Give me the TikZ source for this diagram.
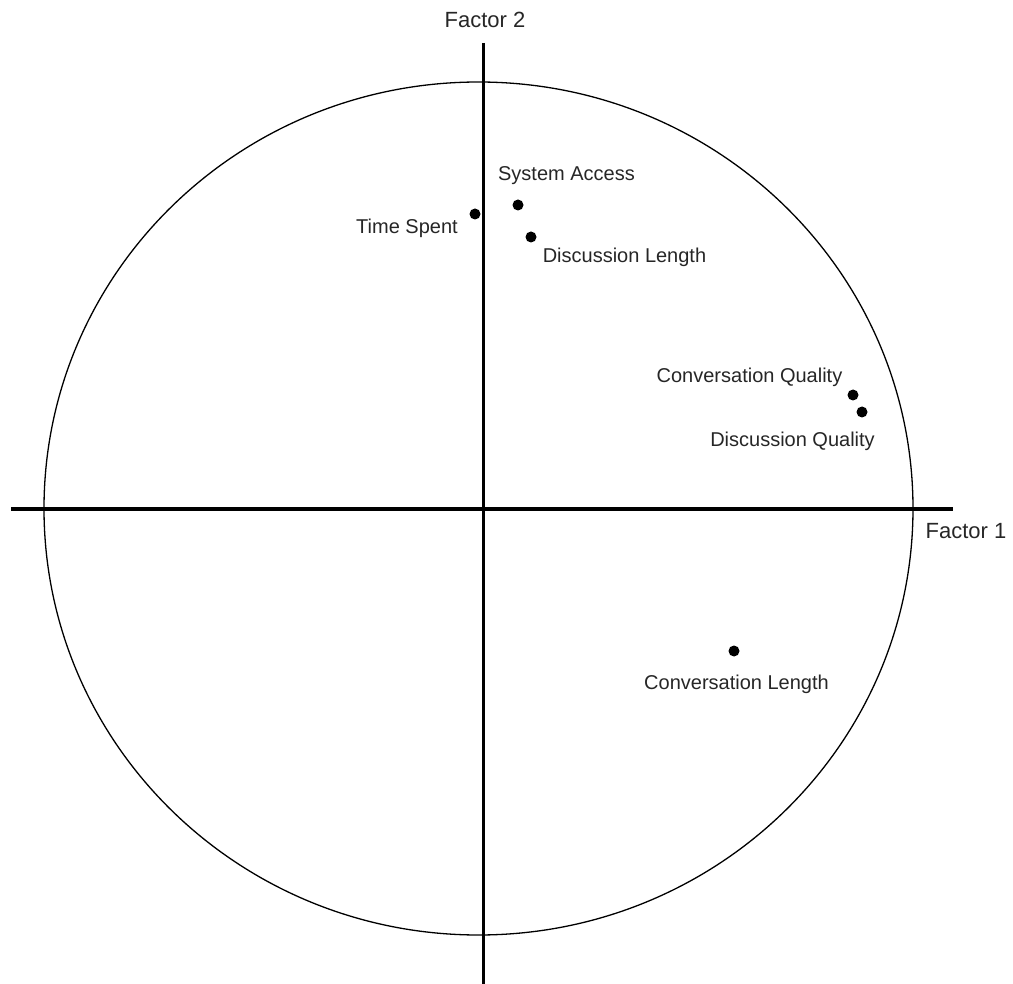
\documentclass[tikz,border=0pt]{standalone}
\usepackage{fontspec}
\setmainfont{Liberation Sans}
\begin{document}
\begin{tikzpicture}[x=1pt,y=-1pt,
  dot/.style={circle,fill=black,inner sep=0pt,minimum size=11pt},
  lab/.style={font=\fontsize{20}{20}\selectfont,text=black!85,inner sep=0pt},
  axlab/.style={font=\fontsize{22}{22}\selectfont,text=black!85,inner sep=0pt},
  axis/.style={line width=3.5pt},
  rim/.style={line width=1.3pt}]
\useasboundingbox (0,0) rectangle (1013,984);
% circle
\draw[rim] (478.5,508.5) ellipse [x radius=434.5, y radius=426.5];
% axes
\coordinate (xl) at (11,509);
\coordinate (xr) at (953,509);
\coordinate (yt) at (483.5,43);
\coordinate (yb) at (483.5,984);
\draw[axis] (xl) -- (xr);
\draw[axis] (yt) -- (yb);
\node[axlab] (f1) at (966,531) {Factor 1};
\node[axlab] (f2) at (485,20) {Factor 2};
% points
\node[dot] (ts) at (475,214) {};
\node[dot] (sa) at (518,205) {};
\node[dot] (dl) at (531,237) {};
\node[dot] (cq) at (853,395) {};
\node[dot] (dq) at (862,412) {};
\node[dot] (cl) at (734,651) {};
\node[lab] (tsl) at (407,228) {Time Spent};
\node[lab] (sal) at (566.5,176) {System Access};
\node[lab] (dll) at (624.5,257) {Discussion Length};
\node[lab] (cql) at (749.5,377) {Conversation Quality};
\node[lab] (dql) at (792.5,441) {Discussion Quality};
\node[lab] (cll) at (736.5,684) {Conversation Length};
\end{tikzpicture}
\end{document}
